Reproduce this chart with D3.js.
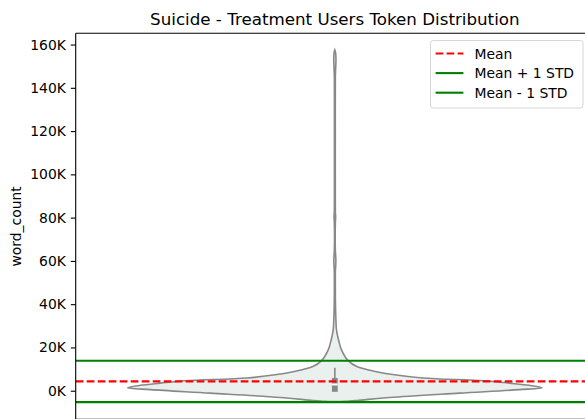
<!DOCTYPE html>
<html>
<head>
<meta charset="utf-8">
<script src="https://cdn.jsdelivr.net/npm/d3@7"></script>
<style>
	body { margin: 0; background: #fff; }
	svg { display: block; font-family: "DejaVu Sans", sans-serif; }
</style>
</head>
<body>
<div id="chart"></div>
<script>
// values
var categories = ["Treatment"];
var yTicks = [0, 20000, 40000, 60000, 80000, 100000, 120000, 140000, 160000];
var yTickLabels = ["0K", "20K", "40K", "60K", "80K", "100K", "120K", "140K", "160K"];

// violin outline: word_count value and relative kde width (1 = widest)
var violinValues = [-5000, -4900, -4500, -3100, -1100, 500, 1400, 2500, 3500, 4600, 5900, 7500, 8800,
	11200, 13900, 18900, 23000, 28000, 33000, 40000, 50000, 55000, 58000, 60000, 62000, 65000,
	77000, 79000, 80500, 82000, 90000, 120000, 145000, 149000, 152000, 155000, 156500, 157500];
var violinDensity = [0, 0.048, 0.106, 0.264, 0.601, 0.889, 1, 0.938, 0.841, 0.721, 0.423, 0.279, 0.202,
	0.106, 0.064, 0.032, 0.019, 0.008, 0.005, 0.003, 0.0024, 0.0026, 0.0042, 0.005, 0.0042, 0.0024,
	0.0024, 0.0034, 0.0038, 0.0028, 0.0022, 0.0022, 0.0024, 0.0038, 0.0052, 0.0048, 0.003, 0];

// inner box
var boxStats = { whiskerLow: 0, q1: -500, median: 2900, q3: 5900, whiskerHigh: 10600 };

var meanValue = 4300;
var stdValue = 9550;

var legendLabels = ["Mean", "Mean + 1 STD", "Mean - 1 STD"];
var legendColors = ["red", "green", "green"];
var legendDashed = [true, false, false];

function draw(){
	var width = 585, height = 419;
	var left = 75.7, right = 594, top = 33.3, bottom = 419.5;

	var svg = d3.select("#chart").append("svg")
		.attr("width", width)
		.attr("height", height);

	var y = d3.scaleLinear()
		.domain([-13300, 165200])
		.range([bottom, top]);

	var x = d3.scaleBand()
		.domain(categories)
		.range([left, right]);

	var cx = x(categories[0]) + x.bandwidth() / 2;

	var w = d3.scaleLinear()
		.domain([0, 1])
		.range([0, x.bandwidth() * 0.4]);

	svg.append("clipPath").attr("id", "plotclip")
		.append("rect")
		.attr("x", left).attr("y", top)
		.attr("width", right - left).attr("height", bottom - top);

	var plot = svg.append("g").attr("clip-path", "url(#plotclip)");

	var pts = violinValues.map(function(v, i){ return { v: v, d: violinDensity[i] }; });

	var area = d3.area()
		.y(function(d){ return y(d.v); })
		.x0(function(d){ return cx - w(d.d); })
		.x1(function(d){ return cx + w(d.d); })
		.curve(d3.curveCatmullRom);

	plot.append("path")
		.datum(pts)
		.attr("d", area)
		.style("fill", "#eaf0ee")
		.style("stroke", "#888888")
		.style("stroke-width", 1.6);

	// box inside the violin
	plot.append("line")
		.attr("x1", cx).attr("x2", cx)
		.attr("y1", y(boxStats.whiskerLow)).attr("y2", y(boxStats.whiskerHigh))
		.style("stroke", "#888888")
		.style("stroke-width", 1.6);

	plot.append("rect")
		.attr("x", cx - 2.9).attr("width", 5.8)
		.attr("y", y(boxStats.q3))
		.attr("height", y(boxStats.q1) - y(boxStats.q3))
		.style("fill", "#888888");

	plot.append("rect")
		.attr("x", cx - 2.9).attr("width", 5.8)
		.attr("y", y(boxStats.median) - 1)
		.attr("height", 2)
		.style("fill", "#ffffff");

	// reference lines
	var hlines = [meanValue, meanValue + stdValue, meanValue - stdValue];
	plot.selectAll("line.ref")
		.data(hlines)
		.enter().append("line")
		.attr("class", "ref")
		.attr("x1", left).attr("x2", right)
		.attr("y1", function(d){ return y(d); })
		.attr("y2", function(d){ return y(d); })
		.style("stroke", function(d, i){ return legendColors[i]; })
		.style("stroke-width", 2.1)
		.style("stroke-dasharray", function(d, i){ return legendDashed[i] ? "7.7,3.3" : null; });

	// y axis
	var yAxis = d3.axisLeft(y)
		.tickValues(yTicks)
		.tickFormat(function(d, i){ return yTickLabels[i]; })
		.tickSize(4.9)
		.tickPadding(4.9);

	var ga = svg.append("g")
		.attr("transform", "translate(" + left + ",0)")
		.call(yAxis);
	ga.select(".domain").remove();
	ga.selectAll(".tick line").style("stroke", "#000").style("stroke-width", 1.1);
	ga.selectAll(".tick text")
		.style("font-family", "DejaVu Sans")
		.style("font-size", "13.9px")
		.style("fill", "#000");

	// spines
	svg.append("line").attr("x1", left).attr("x2", left).attr("y1", top).attr("y2", bottom)
		.style("stroke", "#000").style("stroke-width", 1.1);
	svg.append("line").attr("x1", left).attr("x2", right).attr("y1", top).attr("y2", top)
		.style("stroke", "#000").style("stroke-width", 1.1);
	svg.append("line").attr("x1", left).attr("x2", right).attr("y1", bottom - 0.2).attr("y2", bottom - 0.2)
		.style("stroke", "#000").style("stroke-width", 1.1);

	svg.append("text")
		.attr("transform", "translate(20.5," + ((top + bottom) / 2) + ") rotate(-90)")
		.attr("text-anchor", "middle")
		.style("font-size", "13.9px")
		.text("word_count");

	svg.append("text")
		.attr("x", (left + right) / 2)
		.attr("y", 25)
		.attr("text-anchor", "middle")
		.style("font-size", "16.7px")
		.text("Suicide - Treatment Users Token Distribution");

	// legend
	var lg = svg.append("g");
	lg.append("rect")
		.attr("x", 430.5).attr("y", 40.5)
		.attr("width", 152.5).attr("height", 67.5)
		.attr("rx", 2.8)
		.style("fill", "rgba(255,255,255,0.8)")
		.style("stroke", "#d6d6d6")
		.style("stroke-width", 1);

	var rows = lg.selectAll("g.row")
		.data(legendLabels)
		.enter().append("g")
		.attr("class", "row")
		.attr("transform", function(d, i){ return "translate(0," + (53.5 + i * 19.6) + ")"; });

	rows.append("line")
		.attr("x1", 435.6).attr("x2", 463.4)
		.style("stroke", function(d, i){ return legendColors[i]; })
		.style("stroke-width", 2.1)
		.style("stroke-dasharray", function(d, i){ return legendDashed[i] ? "7.7,3.3" : null; });

	rows.append("text")
		.attr("x", 474.5)
		.attr("dy", "0.36em")
		.style("font-size", "13.9px")
		.text(function(d){ return d; });
}

draw();
</script>
</body>
</html>
